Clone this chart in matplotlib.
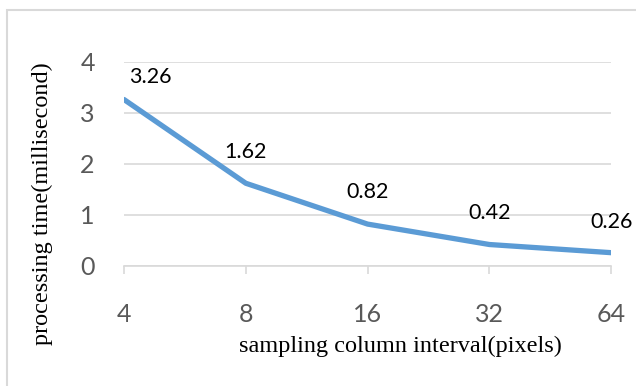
import matplotlib.pyplot as plt
from matplotlib.patches import Rectangle

# data
intervals = ["4", "8", "16", "32", "64"]
times = [3.26, 1.62, 0.82, 0.42, 0.26]
y_ticks = [0, 1, 2, 3, 4]

# label offsets (points) relative to each data point
label_dx = [19, 0, 0, 0, 0]
label_dy = [16.5, 22.5, 23, 22.5, 22]

fig = plt.figure(figsize=(6.36, 3.86), dpi=100)
ax = fig.add_axes([0.195, 0.311, 0.766, 0.529])

# light frame around the chart area like an Excel chart
fig.patches.append(Rectangle((7 / 636, -0.1), 1.2, 1 - 10 / 386 + 0.1,
                             transform=fig.transFigure, fill=False,
                             edgecolor="#D9D9D9", linewidth=1.5))

x = list(range(len(intervals)))
ax.plot(x, times, color="#5B9BD5", linewidth=3.8, solid_capstyle="round",
        solid_joinstyle="round", zorder=3)

for i, v in enumerate(times):
    ax.annotate(f"{v:.2f}", (x[i], v), xytext=(label_dx[i], label_dy[i]),
                textcoords="offset points", ha="center", va="center",
                fontsize=15.5, family="Lato", color="black")

ax.set_xlim(0, len(intervals) - 1)
ax.set_ylim(0, 4)
ax.set_xticks(x)
ax.set_xticklabels(intervals)
ax.set_yticks(y_ticks)
ax.set_yticklabels([str(t) for t in y_ticks])

ax.grid(axis="y", color="#D9D9D9", linewidth=1.2)
ax.set_axisbelow(True)
for side in ["top", "right", "left"]:
    ax.spines[side].set_visible(False)
ax.spines["bottom"].set_color("#D9D9D9")
ax.spines["bottom"].set_linewidth(1.2)

ax.tick_params(axis="x", length=6, width=1.2, color="#D9D9D9", pad=21,
               labelsize=18, labelcolor="#595959")
ax.tick_params(axis="y", length=0, pad=21, labelsize=18, labelcolor="#595959")
for lab in ax.get_xticklabels() + ax.get_yticklabels():
    lab.set_family("Lato")

ax.set_xlabel("sampling column interval(pixels)", family="Liberation Serif",
              fontsize=17.5)
ax.xaxis.set_label_coords(0.567, -0.34)
ax.set_ylabel("processing time(millisecond)", family="Liberation Serif",
              fontsize=17.5)
ax.yaxis.set_label_coords(-0.146, 0.306)

fig.savefig("out.png", dpi=100)
